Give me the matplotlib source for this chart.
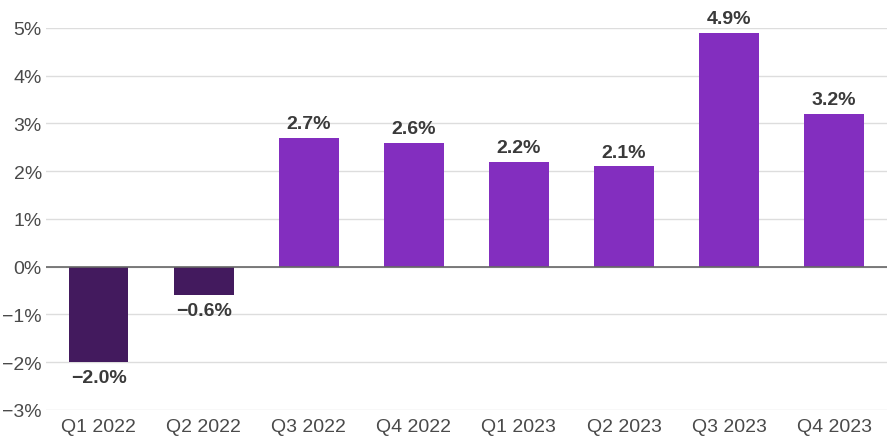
import matplotlib.pyplot as plt

quarters = ["Q1 2022", "Q2 2022", "Q3 2022", "Q4 2022", "Q1 2023", "Q2 2023", "Q3 2023", "Q4 2023"]
growth = [-2.0, -0.6, 2.7, 2.6, 2.2, 2.1, 4.9, 3.2]
yticks = [-3, -2, -1, 0, 1, 2, 3, 4, 5]

plt.rcParams['font.family'] = ['Liberation Sans', 'DejaVu Sans']

fig = plt.figure(figsize=(8.93, 4.39), dpi=100)
ax = fig.add_axes([0.0515, 0.0638, 0.9415, 0.8702])

colors = ['#431a5e' if v < 0 else '#832ebf' for v in growth]
x = range(len(quarters))
ax.bar(x, growth, width=0.57, color=colors, zorder=3)

for i, v in enumerate(growth):
    label = f"{v:.1f}%".replace('-', '\u2212')
    if v >= 0:
        ax.annotate(label, (i, v), xytext=(0, 4), textcoords='offset points',
                    ha='center', va='bottom', fontsize=14, fontweight='bold', color='#3a3a3a')
    else:
        ax.annotate(label, (i, v), xytext=(0, -5), textcoords='offset points',
                    ha='center', va='top', fontsize=14, fontweight='bold', color='#3a3a3a')

ax.set_xlim(-0.5, len(quarters) - 0.5)
ax.set_ylim(-3, 5)
ax.set_yticks(yticks)
ax.set_yticklabels([f"{t}%".replace('-', '\u2212') for t in yticks])
ax.set_xticks(list(x))
ax.set_xticklabels(quarters)
ax.tick_params(axis='both', length=0, labelsize=14, colors='#4a4a4a')
ax.tick_params(axis='y', pad=3)
ax.tick_params(axis='x', pad=6)

ax.grid(axis='y', color='#dddddd', linewidth=1, zorder=0)
ax.axhline(0, color='#666666', linewidth=1.2, zorder=4)
for s in ax.spines.values():
    s.set_visible(False)

fig.savefig("out.png", dpi=100)
